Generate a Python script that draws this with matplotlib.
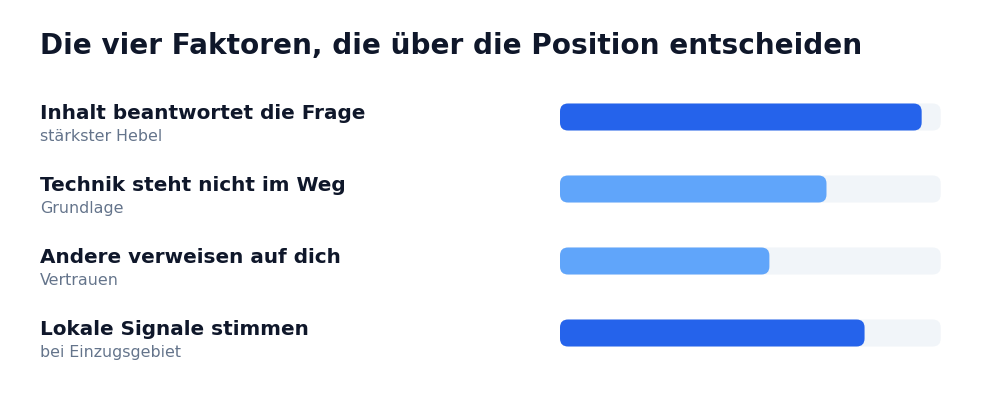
import matplotlib.pyplot as plt
from matplotlib.patches import FancyBboxPatch

# Daten
titel = "Die vier Faktoren, die über die Position entscheiden"
faktoren = [
    "Inhalt beantwortet die Frage",
    "Technik steht nicht im Weg",
    "Andere verweisen auf dich",
    "Lokale Signale stimmen",
]
untertitel = [
    "stärkster Hebel",
    "Grundlage",
    "Vertrauen",
    "bei Einzugsgebiet",
]
werte = [0.95, 0.70, 0.55, 0.80]

# Farben
dunkelblau = "#2563EB"
hellblau = "#60A5FA"
spur = "#F1F5F9"
textfarbe = "#0F172A"
grau = "#64748B"

W, H = 1000, 400
fig = plt.figure(figsize=(10, 4), dpi=100)
fig.patch.set_facecolor("white")

# Achse für die Balken (in Pixeln platziert)
x0, x1 = 560, 940.7
y_top, y_bot = 81, 369
ax = fig.add_axes([x0 / W, 1 - y_bot / H, (x1 - x0) / W, (y_bot - y_top) / H])
ax.set_xlim(0, 1)
ax.set_ylim(len(werte) - 0.5, -0.5)
ax.axis("off")

px_x = (x1 - x0)          # Pixel pro x-Einheit
px_y = (y_bot - y_top) / len(werte)  # Pixel pro y-Einheit
bar_h = 27 / px_y
radius = 8 / px_x
aspect = px_x / px_y

for i, v in enumerate(werte):
    farbe = dunkelblau if v >= 0.8 else hellblau
    ax.add_patch(FancyBboxPatch((0, i - bar_h / 2), 1, bar_h,
                                boxstyle=f"round,pad=0,rounding_size={radius}",
                                mutation_aspect=aspect, facecolor=spur, edgecolor="none"))
    ax.add_patch(FancyBboxPatch((0, i - bar_h / 2), v, bar_h,
                                boxstyle=f"round,pad=0,rounding_size={radius}",
                                mutation_aspect=aspect, facecolor=farbe, edgecolor="none"))

# Texte
fig.text(40 / W, 1 - 54.5 / H, titel, fontsize=20.1, fontweight="bold",
         color=textfarbe, va="baseline", ha="left")

for i, (f, u) in enumerate(zip(faktoren, untertitel)):
    mitte = y_top + px_y * (i + 0.5)
    fig.text(40 / W, 1 - (mitte + 2) / H, f, fontsize=14.4, fontweight="bold",
             color=textfarbe, va="baseline", ha="left")
    fig.text(40 / W, 1 - (mitte + 24) / H, u, fontsize=11.4,
             color=grau, va="baseline", ha="left")

plt.savefig("out.png", dpi=100, facecolor="white")
